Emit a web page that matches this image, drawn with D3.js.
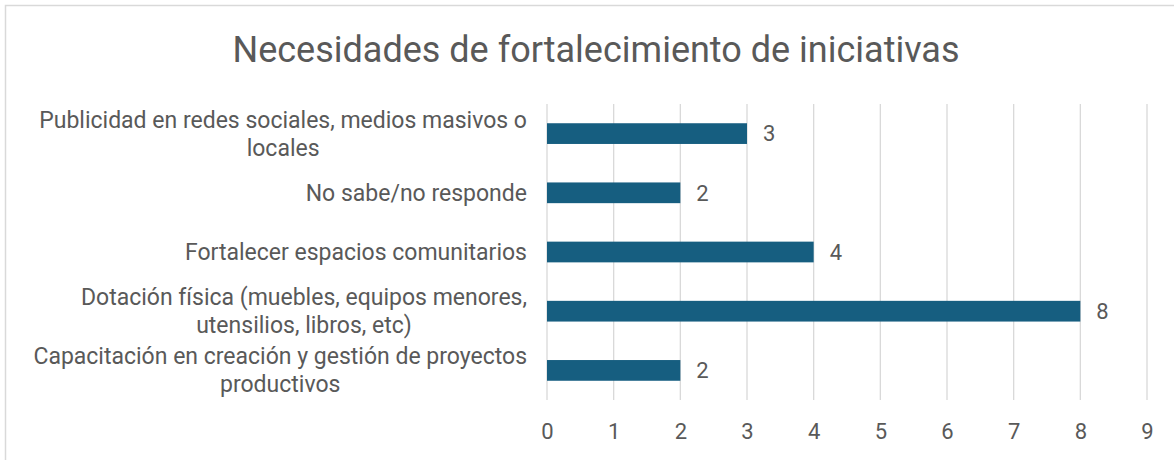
<!DOCTYPE html>
<html>
<head>
<meta charset="utf-8">
<script src="https://d3js.org/d3.v7.min.js"></script>
<style>
  body { margin: 0; background: #fff; }
  text { font-family: Roboto, "Open Sans", sans-serif; fill: #595959; }
</style>
</head>
<body>
<div id="chart"></div>
<script>
// datos del gráfico (de arriba hacia abajo)
var categories = [
  "Publicidad en redes sociales, medios masivos o locales",
  "No sabe/no responde",
  "Fortalecer espacios comunitarios",
  "Dotación física (muebles, equipos menores, utensilios, libros, etc)",
  "Capacitación en creación y gestión de proyectos productivos"
];
var labelLines = [
  ["Publicidad en redes sociales, medios masivos o", "locales"],
  ["No sabe/no responde"],
  ["Fortalecer espacios comunitarios"],
  ["Dotación física (muebles, equipos menores,", "utensilios, libros, etc)"],
  ["Capacitación en creación y gestión de proyectos", "productivos"]
];
var values = [3, 2, 4, 8, 2];
var xTicks = [0, 1, 2, 3, 4, 5, 6, 7, 8, 9];
var title = "Necesidades de fortalecimiento de iniciativas";

var W = 1174, H = 460;
var margin = {top: 104, right: 27, bottom: 60, left: 547};

var svg = d3.select("#chart").append("svg")
  .attr("width", W)
  .attr("height", H);

// marco
svg.append("rect")
  .attr("x", 5.5).attr("y", 5.5)
  .attr("width", W + 20).attr("height", H + 20)
  .attr("fill", "#fff")
  .attr("stroke", "#d9d9d9")
  .attr("stroke-width", 1.5);

var x = d3.scaleLinear().domain([0, 9]).range([margin.left, W - margin.right]);
var y = d3.scaleBand().domain(categories).range([margin.top, H - margin.bottom])
  .paddingInner(0.65).paddingOuter(0.325);

// titulo
svg.append("text")
  .attr("x", 596).attr("y", 62)
  .attr("text-anchor", "middle")
  .style("font-size", "36px")
  .text(title);

// lineas de cuadricula
svg.append("g").attr("class", "grid")
  .selectAll("line")
  .data(xTicks).enter().append("line")
  .attr("x1", function(d){ return x(d); })
  .attr("x2", function(d){ return x(d); })
  .attr("y1", margin.top)
  .attr("y2", H - margin.bottom)
  .attr("stroke", "#d9d9d9")
  .attr("stroke-width", 1.3);

// eje x
var xAxis = svg.append("g")
  .attr("transform", "translate(0," + (H - margin.bottom) + ")")
  .call(d3.axisBottom(x).tickValues(xTicks).tickSize(0).tickPadding(23).tickFormat(d3.format("d")));
xAxis.select(".domain").remove();
xAxis.selectAll("text").style("font-size", "22px").attr("fill", "#595959");

// barras
svg.selectAll(".bar")
  .data(values).enter().append("rect")
  .attr("class", "bar")
  .attr("x", x(0))
  .attr("y", function(d, i){ return y(categories[i]); })
  .attr("width", function(d){ return x(d) - x(0); })
  .attr("height", y.bandwidth())
  .attr("fill", "#165e80");

// etiquetas de valores
svg.selectAll(".val")
  .data(values).enter().append("text")
  .attr("class", "val")
  .attr("x", function(d){ return x(d) + 16; })
  .attr("y", function(d, i){ return y(categories[i]) + y.bandwidth() / 2; })
  .attr("dy", "0.35em")
  .style("font-size", "22px")
  .text(function(d){ return d; });

// etiquetas de categorias (centradas por bloque, alineadas a la derecha)
var labelRight = 527, lineH = 28;
categories.forEach(function(c, i){
  var lines = labelLines[i];
  var g = svg.append("g");
  var cy = y(c) + y.bandwidth() / 2;
  var texts = lines.map(function(l, j){
    return g.append("text")
      .attr("y", cy + (j - (lines.length - 1) / 2) * lineH)
      .attr("dy", "0.35em")
      .attr("text-anchor", "middle")
      .style("font-size", "23px")
      .text(l);
  });
  var wMax = d3.max(texts, function(t){ return t.node().getComputedTextLength(); });
  texts.forEach(function(t){ t.attr("x", labelRight - wMax / 2); });
});
</script>
</body>
</html>
